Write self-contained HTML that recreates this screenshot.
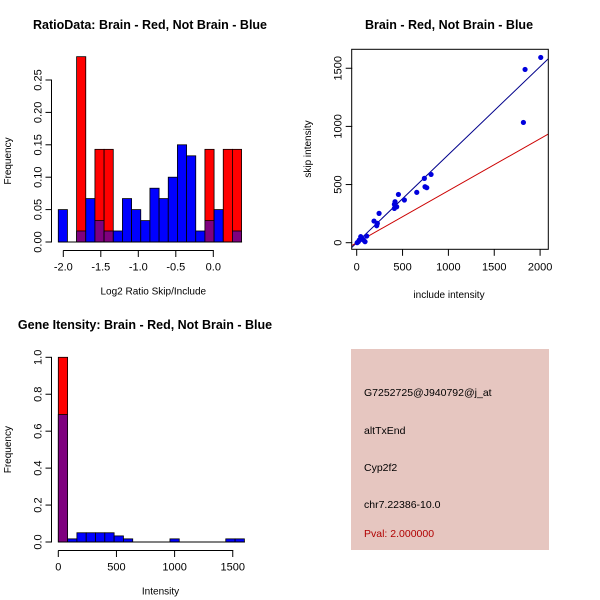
<!DOCTYPE html>
<html><head><meta charset="utf-8"><style>
body{margin:0;background:#fff}
svg{display:block;font-family:"Liberation Sans",sans-serif}
</style></head><body>
<svg id="s" width="600" height="600" xmlns="http://www.w3.org/2000/svg">
<rect width="600" height="600" fill="#fff"/>
<text x="150" y="29" font-size="12.5" font-weight="bold" text-anchor="middle">RatioData: Brain - Red, Not Brain - Blue</text>
<text x="449" y="29" font-size="12.5" font-weight="bold" text-anchor="middle">Brain - Red, Not Brain - Blue</text>
<text x="145" y="329" font-size="12.5" font-weight="bold" text-anchor="middle">Gene Itensity: Brain - Red, Not Brain - Blue</text>
<rect x="351" y="349" width="198" height="201" fill="#e6c6c0"/>
<g font-size="10.5">
<text x="364" y="396">G7252725@J940792@j_at</text>
<text x="364" y="434">altTxEnd</text>
<text x="364" y="471">Cyp2f2</text>
<text x="364" y="508">chr7.22386-10.0</text>
<text x="364" y="537" fill="#b00000">Pval: 2.000000</text>
</g>
<g stroke="#000" stroke-width="1" fill="none">
<path d="M63.3 250.5H213.3M51.5 80V242.5M58.3 550.5H233M51.5 357V542.5"/>
</g>
<g id="g1"></g><g id="g2"></g><g id="g3"></g>
</svg>
<script>
// Ratio histogram data
const ratioBinStart=-2.067, ratioBinWidth=0.1222;
const ratioRed=[0,0,0.286,0,0.143,0.143,0,0,0,0,0,0,0,0,0,0,0.143,0,0.143,0.143];
const ratioBlue=[0.05,0,0.017,0.067,0.033,0.017,0.017,0.067,0.05,0.033,0.083,0.067,0.1,0.15,0.133,0.017,0.033,0.05,0,0.017];
const ratioXTicks=[-2.0,-1.5,-1.0,-0.5,0.0];
const ratioYTicks=[0,0.05,0.10,0.15,0.20,0.25];
// Scatter data
const incl=[2007,1836,1818,738,811,745,764,655,455,520,411,418,411,436,244,189,225,218,109,55,29,73,91,18,44,5];
const skip=[1593,1490,1034,553,587,481,473,433,415,367,330,352,295,309,252,186,166,146,57,37,23,23,9,9,52,0];
const blueSlope=0.757, redSlope=0.447;
const scXTicks=[0,500,1000,1500,2000];
const scYTicks=[0,500,1000,1500];
// Intensity histogram
const intBinWidth=80;
const intRed=[1.0,0,0,0,0,0,0,0,0,0,0,0,0,0,0,0,0,0,0,0];
const intBlue=[0.69,0.017,0.05,0.05,0.05,0.05,0.033,0.017,0,0,0,0,0.017,0,0,0,0,0,0.017,0.017];
const intXTicks=[0,500,1000,1500];
const intYTicks=[0,0.2,0.4,0.6,0.8,1.0];

const NS="http://www.w3.org/2000/svg";
function mk(p,t,a){const e=document.createElementNS(NS,t);for(const k in a)e.setAttribute(k,a[k]);p.appendChild(e);return e;}
function fmt(v,d){return v.toFixed(d);}
function hl(g,x1,x2,y){return mk(g,'rect',{x:Math.min(x1,x2),y:y-0.5,width:Math.abs(x2-x1)+0.5,height:1,fill:'#000'});}
function vl(g,x,y1,y2){return mk(g,'rect',{x:x-0.5,y:Math.min(y1,y2),width:1,height:Math.abs(y2-y1)+0.5,fill:'#000'});}

function hist(g,xs,ys,start,w,red,blue,xt,yt,xd,yd,xaxY,yaxX,xlab,ylabX,prefix){
  const n=red.length;
  for(let i=0;i<n;i++){
    const x0=xs(start+i*w),x1=xs(start+(i+1)*w);
    const r=red[i],b=blue[i],m=Math.min(r,b);
    if(r>0){const e=mk(g,'rect',{x:x0,y:ys(r),width:x1-x0,height:ys(0)-ys(r),fill:'#ff0000',stroke:'#000','stroke-width':0.8});
      
      }
    if(b>0){const e=mk(g,'rect',{x:x0,y:ys(b),width:x1-x0,height:ys(0)-ys(b),fill:b>r&&r>0?'#0000ff':(r>0?'#7f007f':'#0000ff'),stroke:'#000','stroke-width':0.8});
      
      }
    if(m>0&&b>r){const e=mk(g,'rect',{x:x0,y:ys(m),width:x1-x0,height:ys(0)-ys(m),fill:'#7f007f',stroke:'#000','stroke-width':0.8});
      
      }
  }
  hl(g,xs(start),xs(start+n*w),ys(0));
  const xa=hl(g,xs(xt[0]),xs(xt[xt.length-1]),xaxY);
  
  
  xt.forEach(v=>{vl(g,xs(v),xaxY,xaxY+6);
    const t=mk(g,'text',{x:xs(v),y:xaxY+20,'font-size':11,'text-anchor':'middle'});t.textContent=fmt(v,xd);
    
    });
  const ya=vl(g,yaxX,ys(yt[0]),ys(yt[yt.length-1]));
  
  
  yt.forEach(v=>{hl(g,yaxX-6,yaxX,ys(v));
    const t=mk(g,'text',{x:0,y:0,'font-size':11,'text-anchor':'middle',transform:`translate(${yaxX-10},${ys(v)}) rotate(-90)`});t.textContent=fmt(v,yd);
    
    });
  const xl=mk(g,'text',{x:(xs(xt[0])+xs(xt[xt.length-1]))/2+15,y:xaxY+44,'font-size':10,'text-anchor':'middle'});xl.textContent=xlab;
  
  
  const yl=mk(g,'text',{x:0,y:0,'font-size':10,'text-anchor':'middle',transform:`translate(${ylabX},${(ys(yt[0])+ys(yt[yt.length-1]))/2}) rotate(-90)`});yl.textContent='Frequency';
  
  
}
// Panel 1
hist(document.getElementById('g1'),v=>63.3+(v+2)*75,v=>242-v*648,ratioBinStart,ratioBinWidth,ratioRed,ratioBlue,ratioXTicks,ratioYTicks,1,2,250.5,51.5,'Log2 Ratio Skip/Include',11,'ratio');
// Panel 3
hist(document.getElementById('g3'),v=>58.3+v*0.1163,v=>542-v*184.7,0,intBinWidth,intRed,intBlue,intXTicks,intYTicks,0,1,550.5,51.5,'Intensity',11,'intensity');
// Panel 2
(function(){
  const g=document.getElementById('g2');
  const xs=v=>356.7+v*0.0917, ys=v=>242.7-v*0.1163;
  const L=351.7,R=548.3,T=49.3,B=249.3;
  const cp=mk(g,'clipPath',{id:'cp'});mk(cp,'rect',{x:L,y:T,width:R-L,height:B-T});
  const xa=(L-356.7)/0.0917, xb=(R-356.7)/0.0917;
  const bl=mk(g,'line',{x1:xs(xa),y1:ys(xa*blueSlope),x2:xs(xb),y2:ys(xb*blueSlope),stroke:'#00008b','stroke-width':1,'clip-path':'url(#cp)'});
  
  
  const rl=mk(g,'line',{x1:xs(xa),y1:ys(xa*redSlope),x2:xs(xb),y2:ys(xb*redSlope),stroke:'#cc0000','stroke-width':1,'clip-path':'url(#cp)'});
  
  
  incl.forEach((v,i)=>{const c=mk(g,'circle',{cx:xs(v),cy:ys(skip[i]),r:2.6,fill:'#0000dd'});
    
    });
  const f=mk(g,'rect',{x:L,y:T,width:R-L,height:B-T,fill:'none',stroke:'#000'});
  
  
  scXTicks.forEach(v=>{vl(g,xs(v),B,B+6);
    const t=mk(g,'text',{x:xs(v),y:B+21,'font-size':11,'text-anchor':'middle'});t.textContent=v;
    
    });
  scYTicks.forEach(v=>{hl(g,L-6,L,ys(v));
    const t=mk(g,'text',{x:0,y:0,'font-size':11,'text-anchor':'middle',transform:`translate(${L-10},${ys(v)}) rotate(-90)`});t.textContent=v;
    
    });
  const xl=mk(g,'text',{x:449,y:298,'font-size':10,'text-anchor':'middle'});xl.textContent='include intensity';
  
  
  const yl=mk(g,'text',{x:0,y:0,'font-size':10,'text-anchor':'middle',transform:'translate(311,149) rotate(-90)'});yl.textContent='skip intensity';
  
  
})();
</script>
</body></html>
